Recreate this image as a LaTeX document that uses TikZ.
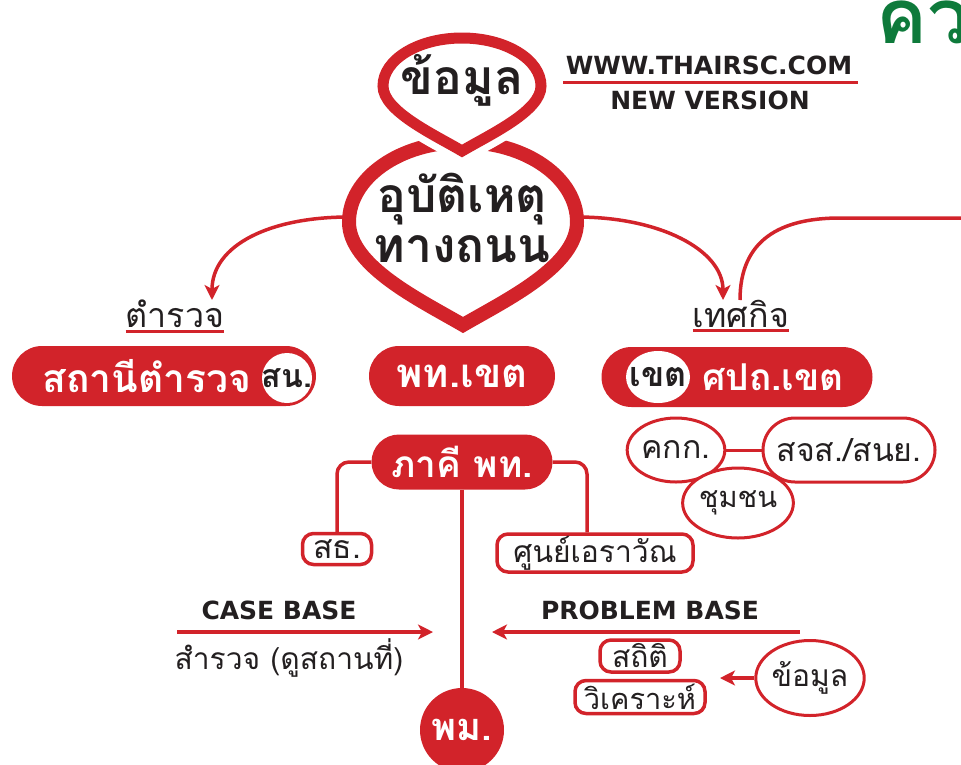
\documentclass[tikz,border=0pt]{standalone}
\usepackage{fontspec}
\setmainfont{Loma}[Script=Thai]
\newfontfamily\latinfont{DejaVu Sans}
\usetikzlibrary{arrows.meta,positioning,shapes.misc,shapes.geometric}
\definecolor{rscred}{HTML}{D2232A}
\definecolor{rscgreen}{HTML}{0E7A3B}
\definecolor{inkgray}{HTML}{231F20}
\newcommand{\tsize}[1]{\fontsize{#1}{#1}\selectfont}
\tikzset{
    red pill/.style={rounded rectangle, fill=rscred, inner sep=0pt},
    pill text/.style={text=white, font=\tsize{40}\bfseries, inner sep=0pt},
    white disc/.style={ellipse, fill=white, inner sep=0pt},
    disc text/.style={text=inkgray, font=\tsize{34}\bfseries, inner sep=0pt},
    red ring/.style={ellipse, draw=rscred, line width=3pt, fill=white, text=inkgray, inner sep=0pt, font=\tsize{32}},
    red box/.style={rectangle, rounded corners=11pt, draw=rscred, line width=3.5pt, fill=white, text=inkgray, inner sep=0pt, font=\tsize{32}},
    head text/.style={text=inkgray, font=\tsize{34}, inner sep=0pt},
    latin text/.style={text=inkgray, font=\latinfont\bfseries\tsize{25}, inner sep=0pt},
    link/.style={draw=rscred, line width=3.5pt},
    rule/.style={draw=rscred, line width=3pt}
}
\begin{document}
\begin{tikzpicture}[x=1pt, y=-1pt, >={Stealth[length=15pt, width=15pt, inset=4pt]}]
\useasboundingbox (0,0) rectangle (961,764);

% corner title, cut by the page edge
\node[anchor=west, text=rscgreen, font=\tsize{76}\bfseries, inner sep=0pt] (title) at (876,22) {คว};

% the two drops
\draw[draw=rscred, fill=white, line width=14pt]
  (463,325) .. controls (420,300) and (349,266) .. (349,222)
  .. controls (349,177.8) and (400.1,142) .. (463,142)
  .. controls (525.9,142) and (577,177.8) .. (577,222)
  .. controls (577,266) and (506,300) .. (463,325) -- cycle;
\draw[draw=white, fill=white, line width=25pt]
  (462,151) .. controls (433,134) and (383,111) .. (383,86)
  .. controls (383,59.5) and (418.4,38) .. (462,38)
  .. controls (505.6,38) and (541,59.5) .. (541,86)
  .. controls (541,111) and (491,134) .. (462,151) -- cycle;
\draw[draw=rscred, fill=white, line width=11pt]
  (462,151) .. controls (433,134) and (383,111) .. (383,86)
  .. controls (383,59.5) and (418.4,38) .. (462,38)
  .. controls (505.6,38) and (541,59.5) .. (541,86)
  .. controls (541,111) and (491,134) .. (462,151) -- cycle;
\node[head text, font=\tsize{48}\bfseries] (data) at (462,80) {ข้อมูล};
\node[head text, font=\tsize{48}\bfseries, align=center] (accident) at (462,218) {อุบัติเหตุ\\[2pt]ทางถนน};
\coordinate (dropwest) at (349,217);
\coordinate (dropeast) at (577,217);

% site name
\node[latin text] (www) at (709,65) {WWW.THAIRSC.COM};
\node[latin text] (version) at (710,100) {NEW VERSION};
\draw[rule] (563,82) -- (858,82);

% police and festival labels
\node[head text] (police) at (175,314) {ตำรวจ};
\draw[rule] ([yshift=-3pt]police.south west) -- ([yshift=-3pt]police.south east);
\node[head text] (festival) at (741,314) {เทศกิจ};
\draw[rule] ([yshift=-3pt]festival.south west) -- ([yshift=-3pt]festival.south east);
\coordinate (policetip) at (212,300);
\coordinate (festtip) at (723,300);
\coordinate (festfoot) at (740,300);
\coordinate (farright) at (975,218);
\draw[link, ->] (dropwest) .. controls (270,217) and (212,245) .. (policetip);
\draw[link, ->] (dropeast) .. controls (660,217) and (723,250) .. (festtip);
\draw[link] (festfoot) .. controls (740,240) and (780,218) .. (840,218) -- (farright);

% red pills
\node[red pill, minimum width=304pt, minimum height=60pt] (station) at (164,376) {};
\node[pill text, font=\tsize{39}\bfseries] (stationtext) at (147,376) {สถานีตำรวจ};
\node[white disc, minimum width=50pt, minimum height=50pt] (sn) at (287,378) {};
\node[disc text, font=\tsize{32}\bfseries] (sntext) at (sn) {สน.};
\node[red pill, minimum width=186pt, minimum height=60pt] (district) at (462,376) {};
\node[pill text] (districttext) at (462,376) {พท.เขต};
\node[red pill, minimum width=271pt, minimum height=60pt] (centre) at (737,377) {};
\node[pill text, font=\tsize{37}\bfseries] (centretext) at (773,377) {ศปถ.เขต};
\node[white disc, minimum width=64pt, minimum height=52pt] (khet) at (658,377) {};
\node[disc text] (khettext) at (khet) {เขต};

% district committees
\node[red ring, minimum width=83pt, minimum height=64pt] (committee) at (676,450) {คกก.};
\node[rounded rectangle, draw=rscred, line width=3pt, fill=white, text=inkgray, inner sep=0pt,
      font=\tsize{32}, minimum width=172pt, minimum height=64pt] (traffic) at (849,450) {สจส./สนย.};
\draw[link, line width=3pt] (committee) -- (traffic);
\node[red ring, minimum width=90pt, minimum height=70pt, font=\tsize{29}] (community) at (738,503) {ชุมชน};

% partners
\node[red pill, minimum width=181pt, minimum height=55pt] (partner) at (462,462) {};
\node[pill text, font=\tsize{37}\bfseries] (partnertext) at (462,462) {ภาคี พท.};
\node[red box, minimum width=69pt, minimum height=31pt] (health) at (337,549) {สธ.};
\node[red box, minimum width=196pt, minimum height=38pt, font=\tsize{30}] (erawan) at (595,553) {ศูนย์เอราวัณ};
\draw[link, rounded corners=12pt] (partner.west) -| (health.north);
\draw[link, rounded corners=12pt] (partner.east) -| ([xshift=-8pt]erawan.north);

\node[circle, fill=rscred, minimum size=84pt, inner sep=0pt, text=white, font=\tsize{38}\bfseries] (social) at (462,730) {พม.};
\draw[link, line width=4pt] (partner.south) -- (social.north);

% case base
\node[latin text] (casebase) at (279,610) {CASE BASE};
\coordinate (casefrom) at (177,632);
\coordinate (caseto) at (433,632);
\draw[link, ->] (casefrom) -- (caseto);
\node[head text, font=\tsize{30}] (survey) at (289,658) {สำรวจ (ดูสถานที่)};

% problem base
\node[latin text] (problembase) at (650,610) {PROBLEM BASE};
\coordinate (probfrom) at (800,632);
\coordinate (probto) at (492,632);
\draw[link, ->] (probfrom) -- (probto);
\node[red box, minimum width=80pt, minimum height=32pt, font=\tsize{30}] (stats) at (640,656) {สถิติ};
\node[red box, minimum width=130pt, minimum height=33pt, font=\tsize{29}] (analysis) at (640,697) {วิเคราะห์};
\node[red ring, minimum width=96pt, minimum height=75pt, font=\tsize{30}] (rawdata) at (810,678) {ข้อมูล};
\coordinate (rawto) at (720,678);
\draw[link, ->] (rawdata.west) -- (rawto);
\end{tikzpicture}
\end{document}
